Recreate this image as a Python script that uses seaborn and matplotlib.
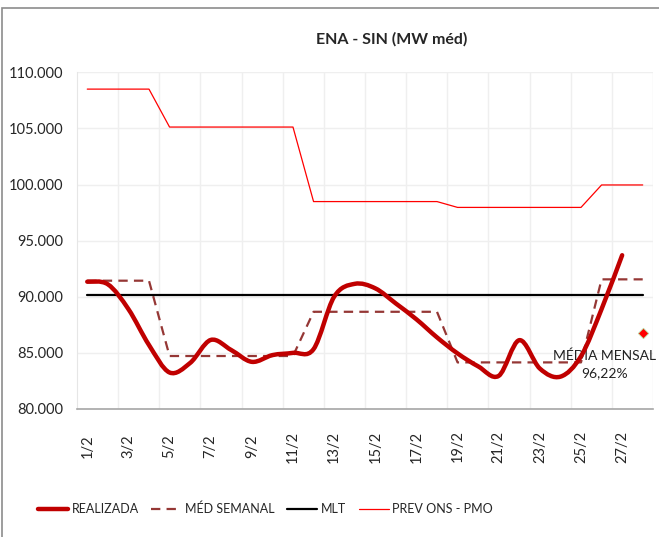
import numpy as np
import seaborn as sns
import matplotlib.pyplot as plt
from matplotlib.path import Path
from matplotlib.patches import PathPatch, Rectangle
from matplotlib.lines import Line2D

# dados (MW med) - fevereiro
dias = [f"{d}/2" for d in range(1, 29)]
realizada = [91340, 91110, 88900, 85700, 83250, 84100, 86150, 85250, 84200, 84800,
             85000, 85330, 90000, 91150, 90750, 89400, 87990, 86380, 84950, 83800,
             82950, 86130, 83600, 82880, 84700, 88900, 93700]
med_semanal = [91430] * 4 + [84720] * 7 + [88660] * 7 + [84150] * 7 + [91550] * 3
mlt = [90200] * 28
prev_ons = [108500] * 4 + [105120] * 7 + [98480] * 7 + [97960] * 7 + [99960] * 3
media_mensal_valor = 86730
media_mensal_texto = "MÉDIA MENSAL\n96,22%"

sns.set_style("white")
plt.rcParams["font.family"] = ["Lato", "DejaVu Sans"]

fig = plt.figure(figsize=(6.59, 5.37), dpi=100)
ax = fig.add_axes([0.1168, 0.2384, 0.8741, 0.627])

x = np.arange(len(dias))

sns.lineplot(x=x, y=med_semanal, ax=ax, color="#953735", lw=1.6)
ax.lines[-1].set_dashes((4.2, 2.8))
sns.lineplot(x=x, y=mlt, ax=ax, color="black", lw=1.6)
sns.lineplot(x=x, y=prev_ons, ax=ax, color="#FF0000", lw=0.9)

# realizada suavizada (bezier estilo Excel)
xr = np.arange(len(realizada), dtype=float)
pts = np.column_stack([xr, realizada])
verts = [pts[0]]
codes = [Path.MOVETO]
n = len(pts)
for i in range(n - 1):
    p0 = pts[max(i - 1, 0)]
    p1 = pts[i]
    p2 = pts[i + 1]
    p3 = pts[min(i + 2, n - 1)]
    c1 = p1 + (p2 - p0) / 6
    c2 = p2 - (p3 - p1) / 6
    verts += [c1, c2, p2]
    codes += [Path.CURVE4] * 3
ax.add_patch(PathPatch(Path(verts, codes), fill=False, edgecolor="#C00000",
                       lw=3.2, capstyle="round", joinstyle="round", zorder=4))

# media mensal
ax.scatter([27], [media_mensal_valor], marker="D", s=28, color="#FF0000",
           edgecolor="#B5D99C", linewidth=0.6, zorder=5)
ax.text(25.15, 84000, media_mensal_texto, ha="center", va="center",
        fontsize=10, linespacing=1.5, color="#222222", zorder=3)

ax.set_xlim(-0.5, 27.5)
ax.set_ylim(80000, 110000)
ax.set_yticks(np.arange(80000, 110001, 5000))
ax.set_yticklabels([f"{v:,.0f}".replace(",", ".") for v in np.arange(80000, 110001, 5000)],
                   fontsize=10.5)
ax.set_xticks(x[::2])
ax.set_xticklabels(dias[::2], rotation=90, fontsize=10.5, va="center")
ax.set_xticks(np.arange(1.5, 28, 2), minor=True)
ax.tick_params(axis="both", which="both", length=0)
ax.tick_params(axis="y", pad=10)
ax.tick_params(axis="x", pad=27)
ax.grid(True, which="minor", axis="x", color="#EFEFEF", lw=1)
ax.grid(True, which="major", axis="y", color="#EFEFEF", lw=1)
ax.grid(False, which="major", axis="x")
ax.set_axisbelow(True)
for s in ["top", "right"]:
    ax.spines[s].set_visible(False)
ax.spines["left"].set_color("#E6E6E6")
ax.spines["bottom"].set_color("#A6A6A6")
ax.spines["bottom"].set_linewidth(1.2)

fig.text(392 / 659, 1 - 39 / 537, "ENA - SIN (MW méd)", ha="center", va="center",
         fontsize=11.5, fontweight="bold")

handles = [
    Line2D([], [], color="#C00000", lw=3.2),
    Line2D([], [], color="#953735", lw=1.6, dashes=(4.2, 2.8)),
    Line2D([], [], color="black", lw=1.6),
    Line2D([], [], color="#FF0000", lw=0.9),
]
labels = ["REALIZADA", "MÉD SEMANAL", "MLT", "PREV ONS - PMO"]
fig.legend(handles, labels, ncol=4, loc="center", bbox_to_anchor=(0.403, 0.052),
           frameon=False, fontsize=9, handlelength=2.4, handletextpad=0.3,
           columnspacing=1.0)

# borda da area do grafico
fig.patches.append(Rectangle((2 / 659, -0.1), 1.2, 1.1 - 8 / 537,
                             transform=fig.transFigure, fill=False,
                             edgecolor="#8C8C8C", lw=1.2))

fig.savefig("out.png", dpi=100)
